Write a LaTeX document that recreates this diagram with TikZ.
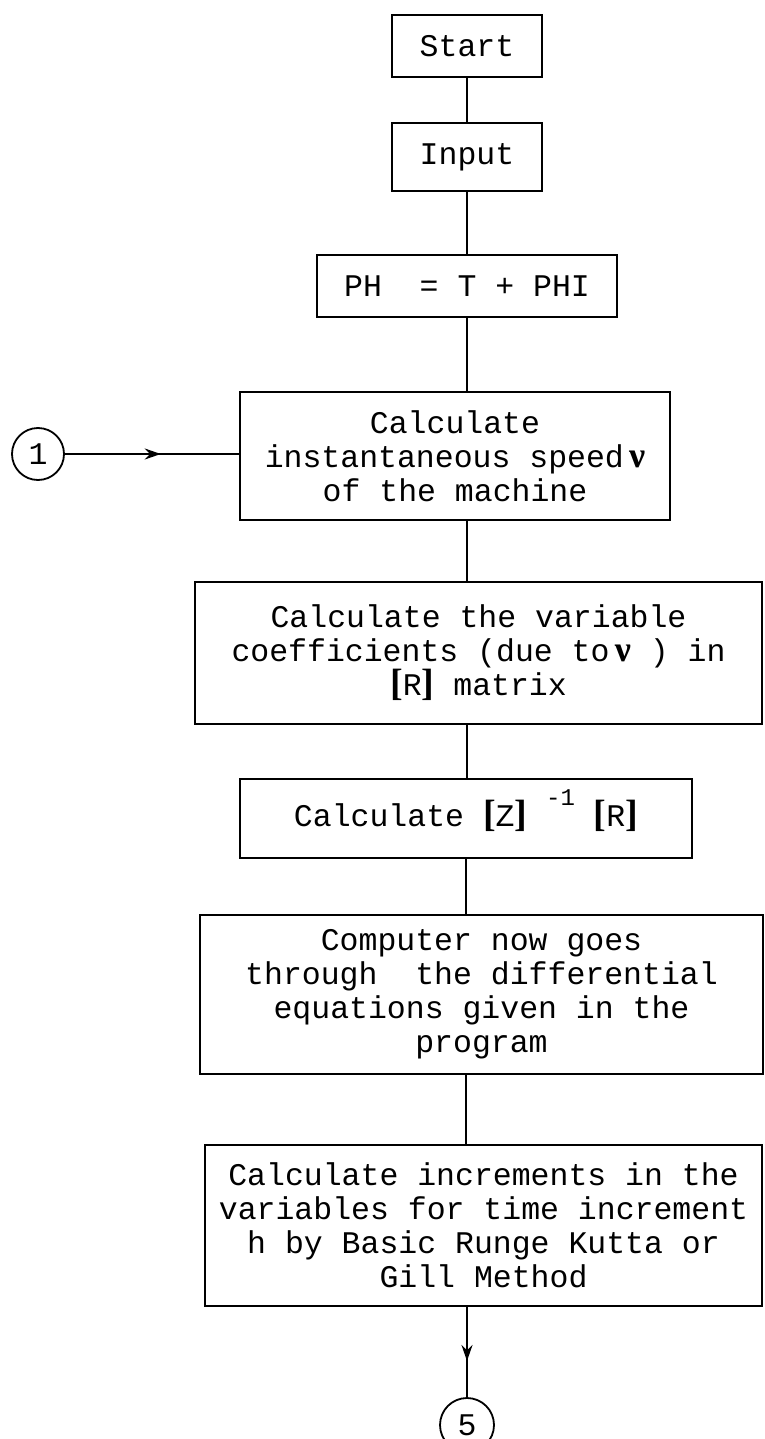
\documentclass[tikz,border=0pt]{standalone}
\usepackage{fontspec}
\setmainfont{Liberation Mono}
\newfontfamily\nufont{Liberation Serif}
\usetikzlibrary{arrows.meta,decorations.markings}
\newcommand{\nusym}{{\nufont\bfseries\fontsize{36}{34}\selectfont ν}}
\newcommand{\lbrk}{\raisebox{0pt}[22pt][6pt]{\nufont\bfseries\fontsize{38}{34}\selectfont [}}
\newcommand{\rbrk}{\raisebox{0pt}[22pt][6pt]{\nufont\bfseries\fontsize{38}{34}\selectfont ]}}
\begin{document}
\begin{tikzpicture}[x=1pt,y=-1pt,
  every node/.style={font=\fontsize{31.5}{34}\selectfont},
  box/.style={draw,line width=1.6pt,rectangle,align=center,inner sep=0pt},
  conn/.style={line width=1.8pt},
  conncircle/.style={draw,circle,line width=1.8pt,inner sep=0pt},
  midarrow/.style={postaction={decorate},decoration={markings,
     mark=at position #1 with {\arrow{Stealth[length=16pt,width=11pt]}}}}
]
\useasboundingbox (0,0) rectangle (764,1439);
\node[box,minimum width=150pt,minimum height=62pt] (start) at (467,46) {Start};
\node[box,minimum width=150pt,minimum height=68pt] (input) at (467,157) {Input};
\node[box,minimum width=300pt,minimum height=62pt] (ph) at (467,286) {PH\ \ = T + PHI};
\node[box,minimum width=430pt,minimum height=128pt] (speed) at (455,456)
  {Calculate\\instantaneous speed\,\nusym\\of the machine};
\node[box,minimum width=567pt,minimum height=142pt] (var) at (478.5,653)
  {Calculate the variable\\coefficients (due to\,\nusym\ ) in\\\lbrk R\rbrk\ matrix};
\node[box,minimum width=452pt,minimum height=79pt] (zr) at (466,818.5)
  {Calculate \lbrk Z\rbrk\ \raisebox{1.3ex}[0pt][0pt]{\fontsize{24}{24}\selectfont -1} \lbrk R\rbrk};
\node[box,minimum width=563pt,minimum height=159pt] (comp) at (481.5,994.5)
  {Computer now goes\\through\ \ the differential\\equations given in the\\program};
\node[box,minimum width=557pt,minimum height=161pt] (incr) at (483.5,1225.5)
  {Calculate increments in the\\variables for time increment\\h by Basic Runge Kutta or\\Gill Method};
\node[conncircle,minimum size=52pt] (c1) at (38,454) {1};
\node[conncircle,minimum size=54pt] (c5) at (467,1425) {5};

\draw[conn] (start.south) -- (input.north);
\draw[conn] (input.south) -- (input.south |- ph.north);
\draw[conn] (ph.south) -- (ph.south |- speed.north);
\draw[conn] (ph.south |- speed.south) -- (ph.south |- var.north);
\draw[conn] (ph.south |- var.south) -- (ph.south |- zr.north);
\draw[conn] (zr.south) -- (zr.south |- comp.north);
\draw[conn] (zr.south |- comp.south) -- (zr.south |- incr.north);
\draw[conn,midarrow=0.6] (c5.north |- incr.south) -- (c5.north);
\draw[conn,midarrow=0.55] (c1.east) -- (c1.east -| speed.west);
\end{tikzpicture}
\end{document}
